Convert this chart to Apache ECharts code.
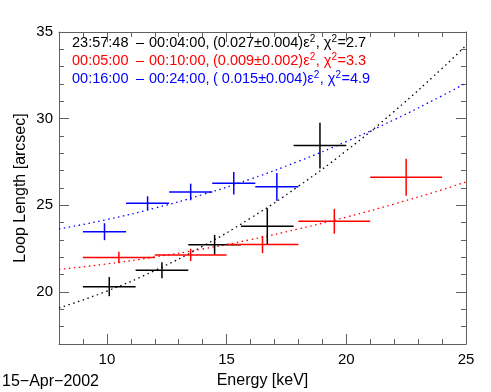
<!DOCTYPE html>
<html>
<head>
<meta charset="utf-8">
<script src="https://cdn.jsdelivr.net/npm/echarts@6/dist/echarts.min.js"></script>
<style>
html,body{margin:0;padding:0;background:#fff;}
#chart{width:491px;height:392px;}
</style>
</head>
<body>
<div id="chart"></div>
<script>
// ---- data ----
const xTickLabels = [10, 15, 20, 25];
const yTickLabels = [20, 25, 30, 35];

// black: 23:57:48 - 00:04:00
const blackX = [10.1, 12.3, 14.5, 16.7, 18.9];
const blackXErr = [1.1, 1.1, 1.1, 1.1, 1.1];
const blackY = [20.31, 21.26, 22.72, 23.80, 28.45];
const blackYErr = [0.55, 0.46, 0.57, 1.03, 1.32];

// red: 00:05:00 - 00:10:00
const redX = [10.5, 13.5, 16.5, 19.5, 22.5];
const redXErr = [1.5, 1.5, 1.5, 1.5, 1.5];
const redY = [21.99, 22.14, 22.74, 24.08, 26.62];
const redYErr = [0.33, 0.35, 0.50, 0.72, 1.07];

// blue: 00:16:00 - 00:24:00
const blueX = [9.9, 11.7, 13.5, 15.3, 17.1];
const blueXErr = [0.9, 0.9, 0.9, 0.9, 0.9];
const blueY = [23.48, 25.12, 25.77, 26.28, 26.07];
const blueYErr = [0.49, 0.40, 0.48, 0.65, 0.80];

const fitX = [8, 10, 12, 14, 16, 18, 20, 22, 24, 25];
const blackFit = [19.08, 20.05, 21.24, 22.64, 24.26, 26.10, 28.15, 30.42, 32.90, 34.23];
const redFit = [21.30, 21.62, 22.02, 22.48, 23.02, 23.64, 24.32, 25.08, 25.90, 26.35];
const blueFit = [23.64, 24.18, 24.84, 25.62, 26.52, 27.54, 28.68, 29.94, 31.32, 32.06];

// legend texts
const legendStart = ['23:57:48', '00:05:00', '00:16:00'];
const legendEnd = ['00:04:00,', '00:10:00,', '00:24:00,'];
const legendCoef = ['(0.027\u00b10.004)', '(0.009\u00b10.002)', '( 0.015\u00b10.004)'];
const legendChi = ['2.7', '3.3', '4.9'];
const dateLabel = '15\u2212Apr\u22122002';

// ---- chart ----
const COLORS = ['#000000', '#ff0000', '#0000ff'];
const AXIS_COLOR = '#606060';
const FONT = '"Liberation Sans", Arial, Helvetica, sans-serif';
const LEG_FONT = '14.5px ' + FONT;
const SUP_FONT = '10px ' + FONT;

function zip4(a, b, c, d) { return a.map((v, i) => [v, b[i], c[i], d[i]]); }
function zip2(a, b) { return a.map((v, i) => [v, b[i]]); }

const measureCtx = document.createElement('canvas').getContext('2d');
function textW(t, font) { measureCtx.font = font; return measureCtx.measureText(t).width; }

function errSeries(name, data, color) {
  return {
    type: 'custom', name: name, data: data, z: 5,
    xAxisIndex: 0, yAxisIndex: 0,
    renderItem: function (params, api) {
      const x = api.value(0), y = api.value(1), xe = api.value(2), ye = api.value(3);
      const l = api.coord([x - xe, y]), r = api.coord([x + xe, y]);
      const t = api.coord([x, y + ye]), b = api.coord([x, y - ye]);
      return {
        type: 'group',
        children: [
          {type: 'line', shape: {x1: l[0], y1: l[1], x2: r[0], y2: r[1]}, style: {stroke: color, lineWidth: 1.5}},
          {type: 'line', shape: {x1: t[0], y1: t[1], x2: b[0], y2: b[1]}, style: {stroke: color, lineWidth: 1.5}}
        ]
      };
    }
  };
}
function fitSeries(data, color) {
  return {
    type: 'line', data: data, smooth: true, showSymbol: false, z: 3,
    xAxisIndex: 0, yAxisIndex: 0,
    lineStyle: {color: color, width: 1.3, type: [1.5, 3.5]},
    silent: true
  };
}

function xAx(pos, major, withLabel) {
  return {
    type: 'value', min: 8, max: 25, interval: 1, position: pos,
    axisLine: {show: !major, lineStyle: {color: AXIS_COLOR, width: 1}},
    axisTick: major ? {show: true, inside: true, length: 10, customValues: xTickLabels, lineStyle: {color: AXIS_COLOR}}
                    : {show: true, inside: true, length: 5, lineStyle: {color: AXIS_COLOR}},
    axisLabel: withLabel ? {show: true, customValues: xTickLabels, fontSize: 15, color: '#000', fontFamily: FONT, margin: 8}
                         : {show: false},
    splitLine: {show: false},
    name: withLabel ? 'Energy [keV]' : '',
    nameLocation: 'middle', nameGap: 29, nameMoveOverlap: false,
    nameTextStyle: {fontSize: 16, color: '#000', fontFamily: FONT}
  };
}
function yAx(pos, major, withLabel) {
  return {
    type: 'value', min: 17, max: 35, interval: 1, position: pos,
    axisLine: {show: !major, lineStyle: {color: AXIS_COLOR, width: 1}},
    axisTick: major ? {show: true, inside: true, length: 10, customValues: yTickLabels, lineStyle: {color: AXIS_COLOR}}
                    : {show: true, inside: true, length: 5, lineStyle: {color: AXIS_COLOR}},
    axisLabel: withLabel ? {show: true, customValues: yTickLabels, fontSize: 15, color: '#000', fontFamily: FONT, margin: 6}
                         : {show: false},
    splitLine: {show: false},
    name: withLabel ? 'Loop Length [arcsec]' : '',
    nameLocation: 'middle', nameGap: 30, nameRotate: 90, nameMoveOverlap: false,
    nameTextStyle: {fontSize: 16, color: '#000', fontFamily: FONT}
  };
}

// legend text pieces (layout only; the texts come from the arrays above)
const graphics = [];
const lineTops = [35, 53, 71];
for (let i = 0; i < 3; i++) {
  const c = COLORS[i], top = lineTops[i];
  const add = (txt, x, sup) => graphics.push({
    type: 'text', x: x, y: sup ? top - 1 : top,
    style: {text: txt, fill: c, font: sup ? SUP_FONT : LEG_FONT, textAlign: 'left', textVerticalAlign: 'top'}
  });
  add(legendStart[i], 72);
  add('\u2013', 136);
  add(legendEnd[i], 149);
  let x = 213;
  const seq = [[legendCoef[i] + '\u03b5', false], ['2', true], [', \u03c7', false], ['2', true], ['=' + legendChi[i], false]];
  seq.forEach(([t, sup]) => { add(t, x, sup); x += textW(t, sup ? SUP_FONT : LEG_FONT) + (sup ? 0.5 : 0); });
}
graphics.push({type: 'text', x: 2, y: 374, style: {text: dateLabel, fill: '#000', font: '16px ' + FONT, textVerticalAlign: 'top'}});

const chart = echarts.init(document.getElementById('chart'), null, {renderer: 'canvas'});
chart.setOption({
  animation: false,
  backgroundColor: '#ffffff',
  grid: {left: 59, right: 25, top: 32, bottom: 48, containLabel: false, outerBoundsMode: 'none'},
  xAxis: [xAx('bottom', false, true), xAx('bottom', true, false), xAx('top', false, false), xAx('top', true, false)],
  yAxis: [yAx('left', false, true), yAx('left', true, false), yAx('right', false, false), yAx('right', true, false)],
  series: [
    fitSeries(zip2(fitX, blackFit), COLORS[0]),
    fitSeries(zip2(fitX, redFit), COLORS[1]),
    fitSeries(zip2(fitX, blueFit), COLORS[2]),
    errSeries('black', zip4(blackX, blackY, blackXErr, blackYErr), COLORS[0]),
    errSeries('red', zip4(redX, redY, redXErr, redYErr), COLORS[1]),
    errSeries('blue', zip4(blueX, blueY, blueXErr, blueYErr), COLORS[2])
  ],
  graphic: graphics
});
</script>
</body>
</html>
